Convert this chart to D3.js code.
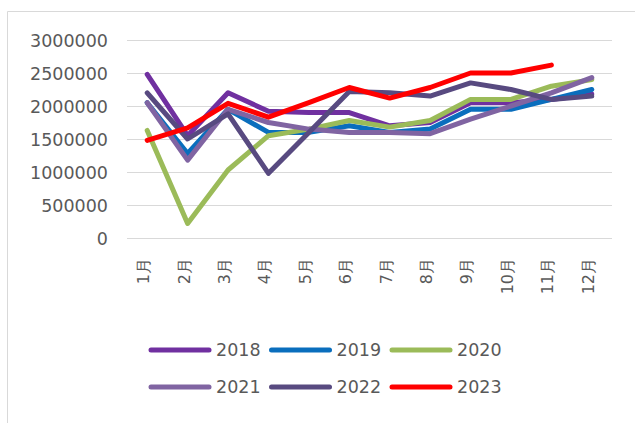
<!DOCTYPE html>
<html>
<head>
<meta charset="utf-8">
<script src="https://cdn.jsdelivr.net/npm/d3@7"></script>
<style>
  html, body { margin: 0; padding: 0; background: #fff; }
  svg { display: block; }
  text { font-family: "DejaVu Sans", sans-serif; fill: #595959; }
</style>
</head>
<body>
<svg id="chart" width="635" height="423"></svg>
<script>
const months = ["1月","2月","3月","4月","5月","6月","7月","8月","9月","10月","11月","12月"];
const yTicks = [0, 500000, 1000000, 1500000, 2000000, 2500000, 3000000];
const seriesNames = ["2018","2019","2020","2021","2022","2023"];
const seriesColors = ["#7030A0","#0A6EBD","#9BBB59","#8064A2","#584A80","#FF0000"];
const v2018 = [2480000,1550000,2200000,1920000,1900000,1900000,1700000,1750000,2050000,2050000,2100000,2180000];
const v2019 = [2050000,1280000,1950000,1600000,1600000,1700000,1600000,1650000,1950000,1950000,2100000,2250000];
const v2020 = [1630000,220000,1030000,1550000,1650000,1780000,1680000,1780000,2100000,2100000,2300000,2400000];
const v2021 = [2050000,1180000,1950000,1750000,1650000,1600000,1600000,1580000,1800000,2000000,2200000,2430000];
const v2022 = [2200000,1500000,1880000,980000,1600000,2220000,2200000,2150000,2350000,2250000,2100000,2150000];
const v2023 = [1480000,1670000,2040000,1830000,2050000,2280000,2120000,2280000,2500000,2500000,2620000];
const seriesValues = [v2018, v2019, v2020, v2021, v2022, v2023];

const svg = d3.select("#chart");

// outer chart-area border
svg.append("path")
  .attr("d", "M7.5,430 L7.5,11.5 L640,11.5")
  .attr("fill", "none").attr("stroke", "#d9d9d9").attr("stroke-width", 1);

const plotLeft = 127, plotRight = 612, plotTop = 40, plotBottom = 238;

const x = d3.scaleBand().domain(months).range([plotLeft, plotRight]).padding(0);
const y = d3.scaleLinear().domain([0, 3000000]).range([plotBottom, plotTop]);

// gridlines
svg.append("g").selectAll("line").data(yTicks).join("line")
  .attr("x1", plotLeft).attr("x2", plotRight)
  .attr("y1", d => Math.round(y(d)) + 0.5).attr("y2", d => Math.round(y(d)) + 0.5)
  .attr("stroke", "#d9d9d9").attr("stroke-width", 1);

// y axis labels
const yAxis = d3.axisLeft(y).tickValues(yTicks).tickSize(0).tickPadding(0).tickFormat(d3.format("d"));
const gy = svg.append("g").attr("transform", `translate(108,0)`).call(yAxis);
gy.select(".domain").remove();
gy.selectAll("text")
  .attr("font-family", "DejaVu Sans, sans-serif")
  .attr("font-size", 17.5).attr("fill", "#595959")
  .attr("dy", "0.36em");

// x axis labels (rotated)
const xAxis = d3.axisBottom(x).tickSize(0).tickPadding(0);
const gx = svg.append("g").attr("transform", `translate(0,${plotBottom})`).call(xAxis);
gx.select(".domain").remove();
gx.selectAll("text")
  .attr("font-family", "DejaVu Sans, sans-serif")
  .attr("font-size", 16).attr("fill", "#595959")
  .attr("text-anchor", "end")
  .attr("transform", "translate(0,20) rotate(-90)")
  .attr("x", 0).attr("y", 0)
  .attr("dy", "0.12em");

// lines
const line = d3.line()
  .x((d, i) => x(months[i]) + x.bandwidth() / 2)
  .y(d => y(d));

svg.append("g").selectAll("path").data(seriesValues).join("path")
  .attr("d", d => line(d))
  .attr("fill", "none")
  .attr("stroke", (d, i) => seriesColors[i])
  .attr("stroke-width", 5)
  .attr("stroke-linejoin", "round")
  .attr("stroke-linecap", "round");

// legend
const legend = svg.append("g");
const legItems = legend.selectAll("g").data(seriesNames).join("g")
  .attr("transform", (d, i) => `translate(${151 + (i % 3) * 120.5},${i < 3 ? 350 : 387})`);
legItems.append("line")
  .attr("x1", 0).attr("x2", 58).attr("y1", 0).attr("y2", 0)
  .attr("stroke", (d, i) => seriesColors[i])
  .attr("stroke-width", 5).attr("stroke-linecap", "round");
legItems.append("text")
  .attr("x", 65).attr("y", 0).attr("dy", "0.36em")
  .attr("font-size", 17.5)
  .text(d => d);
</script>
</body>
</html>
